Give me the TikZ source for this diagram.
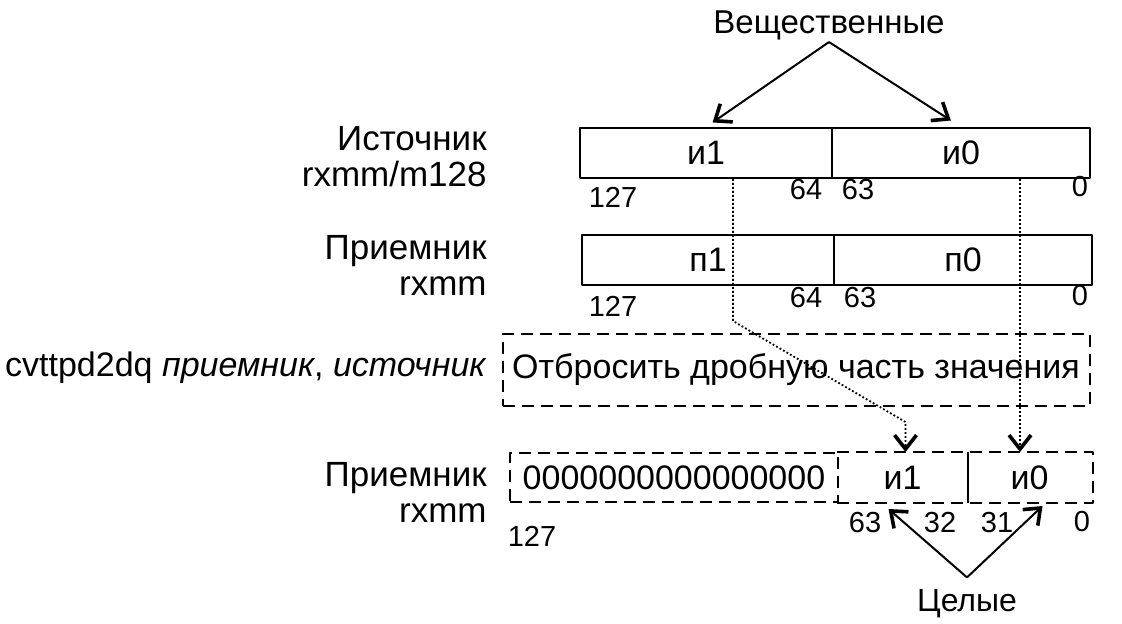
\documentclass[tikz,border=0pt]{standalone}
\usepackage{fontspec}
\setmainfont{Liberation Sans}
\usetikzlibrary{arrows.meta, positioning, calc}

\tikzset{
  cell/.style={draw, line width=1pt, inner sep=0pt, minimum height=25pt,
    font=\fontsize{17}{18}\selectfont},
  dcell/.style={cell, dash pattern=on 6pt off 3.5pt},
  num/.style={inner sep=0pt, font=\fontsize{14.5}{15}\selectfont},
  lbl/.style={inner sep=0pt, align=right, anchor=east, font=\fontsize{17.5}{18}\selectfont},
  arr/.style={line width=1pt, -{Straight Barb[length=7pt, width=11pt, line width=1.8pt, sharp]}},
  dotarr/.style={line width=0.9pt, dash pattern=on 0.9pt off 1.1pt,
    -{Straight Barb[length=7pt, width=11pt, line width=1.8pt, sharp]}}
}

\begin{document}
\begin{tikzpicture}[x=0.5pt, y=-0.5pt, line join=round]
  \useasboundingbox (0,0) rectangle (1122,624);

  % source register
  \node[cell, minimum width=126pt] (src1) at (706,153) {и1};
  \node[cell, minimum width=129pt] (src0) at (961,153) {и0};
  \node[lbl] (srclbl) at (487,157) {Источник\\rxmm/m128};
  \node[num] (s127) at (613,197) {127};
  \node[num] (s64) at (806,190) {64};
  \node[num] (s63) at (858,190) {63};
  \node[num] (s0) at (1080,187) {0};

  % destination register
  \node[cell, minimum width=126pt] (dst1) at (708,260) {п1};
  \node[cell, minimum width=129pt] (dst0) at (963,260) {п0};
  \node[lbl] (dstlbl) at (487,265) {Приемник\\rxmm};
  \node[num] (d127) at (613,306) {127};
  \node[num] (d64) at (806,298) {64};
  \node[num] (d63) at (860,298) {63};
  \node[num] (d0) at (1080,296) {0};

  % operation
  \node[dcell, minimum width=293.5pt, minimum height=36pt] (trunc) at (796,370) {Отбросить дробную часть значения};
  \node[lbl, font=\fontsize{17}{18}\selectfont] (oplbl) at (487,368) {cvttpd2dq \textit{приемник}, \textit{источник}};

  % result register
  \node[dcell, minimum width=164pt, minimum height=24.5pt] (zeros) at (674,477.5) {0000000000000000};
  \node[cell, draw=none, minimum width=64.5pt, minimum height=24.5pt] (res1) at (902.5,477.5) {и1};
  \node[cell, draw=none, minimum width=62.5pt, minimum height=24.5pt] (res0) at (1029.5,477.5) {и0};
  \draw[line width=1pt, dash pattern=on 6pt off 3.5pt] (res1.north west) -- (res0.north east) -- (res0.south east) -- (res1.south west);
  \draw[line width=1pt] (res1.north east) -- (res1.south east);
  \node[lbl] (reslbl) at (487,492) {Приемник\\rxmm};
  \node[num] (r127) at (532,536) {127};
  \node[num] (r63) at (865,523) {63};
  \node[num] (r32) at (940,523) {32};
  \node[num] (r31) at (997,523) {31};
  \node[num] (r0) at (1082,522) {0};

  % type labels
  \node[inner sep=1pt, font=\fontsize{16.5}{17}\selectfont] (real) at (829,25) {Вещественные};
  \node[inner sep=6pt, font=\fontsize{16}{17}\selectfont] (ints) at (967,604) {Целые};
  \coordinate (tip1) at ($(res1.south)+(-14,6)$);
  \coordinate (tip0) at ($(res0.south)+(13,3)$);

  \draw[arr, shorten >=4pt] (real.south) -- (src1.north);
  \draw[arr, shorten >=6pt] (real.south) -- (src0.north);
  \draw[arr] (ints.north) -- (tip1);
  \draw[arr] (ints.north) -- (tip0);

  % moves
  \draw[dotarr] ($(src1.south)+(27,0)$) -- ++(0,142) -- ($(res1.north)+(3,-30)$) -- ($(res1.north)+(3,0)$);
  \draw[dotarr] ($(src0.south)+(59,0)$) -- ($(res0.north)+(-9.5,0)$);
\end{tikzpicture}
\end{document}
